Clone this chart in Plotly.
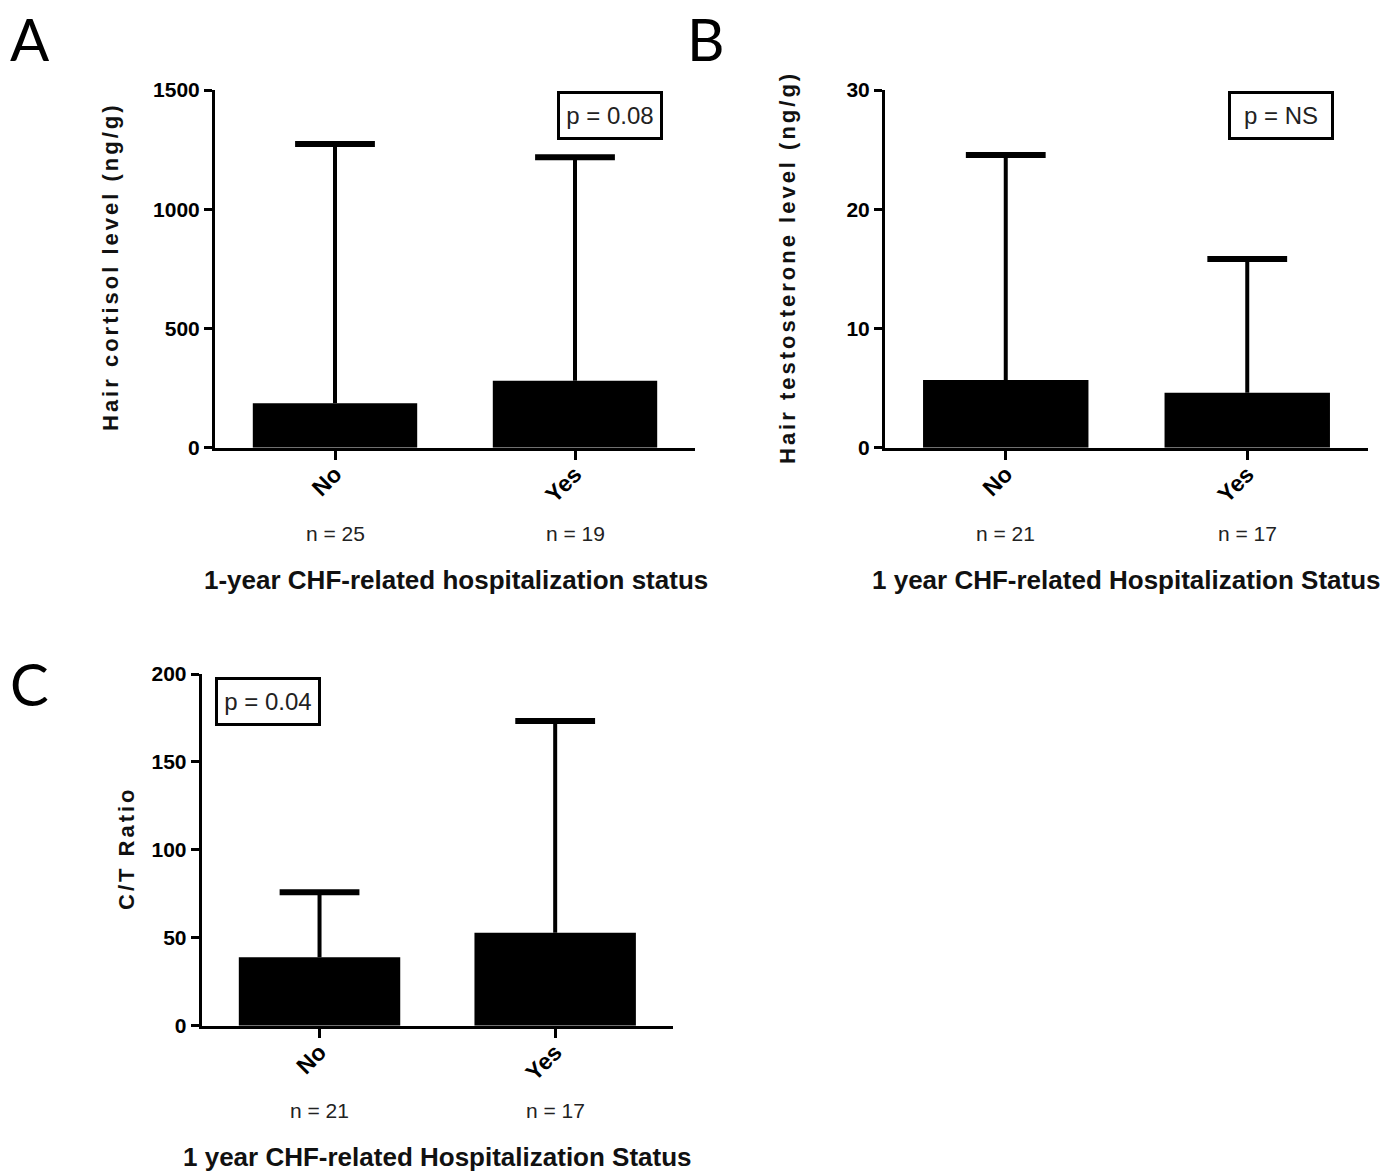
import plotly.graph_objects as go

# ---------------- data ----------------
categories = ["No", "Yes"]

# Panel A: hair cortisol (ng/g)
cortisol_mean = [186, 281]
cortisol_sd = [1088, 937]
cortisol_n = [25, 19]

# Panel B: hair testosterone (ng/g)
testo_mean = [5.68, 4.61]
testo_sd = [18.87, 11.22]
testo_n = [21, 17]

# Panel C: C/T ratio
ratio_mean = [38.9, 52.9]
ratio_sd = [37.0, 120.4]
ratio_n = [21, 17]

a_ticks = [0, 500, 1000, 1500]
b_ticks = [0, 10, 20, 30]
c_ticks = [0, 50, 100, 150, 200]

p_texts = ["p = 0.08", "p = NS", "p = 0.04"]
y_titles = ["Hair cortisol level (ng/g)", "Hair testosterone level (ng/g)", "C/T Ratio"]
x_titles = ["1-year CHF-related hospitalization status",
            "1 year CHF-related Hospitalization Status",
            "1 year CHF-related Hospitalization Status"]
panel_letters = ["A", "B", "C"]

# ---------------- figure ----------------
W, H = 1397, 1173
fig = go.Figure()

def px_x(v):
    return v / W

def px_y(v):
    return 1 - v / H

panels = [
    dict(mean=cortisol_mean, sd=cortisol_sd, n=cortisol_n, ticks=a_ticks,
         xd=[px_x(215), px_x(695)], yd=[px_y(447.7), px_y(90)], ax=""),
    dict(mean=testo_mean, sd=testo_sd, n=testo_n, ticks=b_ticks,
         xd=[px_x(885), px_x(1368)], yd=[px_y(447.7), px_y(90)], ax="2"),
    dict(mean=ratio_mean, sd=ratio_sd, n=ratio_n, ticks=c_ticks,
         xd=[px_x(201.7), px_x(673)], yd=[px_y(1025.7), px_y(674)], ax="3"),
]

tick_font = dict(family="Liberation Sans, Arial", size=21, color="black", weight="bold")
cat_font = dict(family="Liberation Sans, Arial", size=23, color="black", weight="bold")

for i, p in enumerate(panels):
    upper = [m + s for m, s in zip(p["mean"], p["sd"])]
    # bars with stem-only error bars (no caps)
    fig.add_trace(go.Bar(
        x=categories, y=p["mean"],
        xaxis="x" + p["ax"], yaxis="y" + p["ax"],
        width=0.685,
        marker=dict(color="black", line=dict(width=0)),
        error_y=dict(type="data", array=p["sd"], arrayminus=[0, 0], symmetric=False,
                     color="black", thickness=4, width=0),
        showlegend=False, hoverinfo="skip",
    ))
    # caps at the top of error bars
    fig.add_trace(go.Scatter(
        x=categories, y=upper, mode="markers",
        xaxis="x" + p["ax"], yaxis="y" + p["ax"],
        marker=dict(symbol="line-ew", size=57, color="black",
                    line=dict(color="black", width=6)),
        showlegend=False, hoverinfo="skip", cliponaxis=False,
    ))
    xa = dict(domain=p["xd"], anchor="y" + p["ax"], type="category",
              range=[-0.5, 1.5], showline=True, linecolor="black", linewidth=3,
              ticks="outside", ticklen=9, tickwidth=3, tickcolor="black",
              tickangle=-45, tickfont=cat_font, showgrid=False, zeroline=False,
              automargin=False, ticklabelstandoff=-8)
    ya = dict(domain=p["yd"], anchor="x" + p["ax"], range=[0, p["ticks"][-1]],
              tickvals=p["ticks"], showline=True, linecolor="black", linewidth=3,
              ticks="outside", ticklen=8, tickwidth=3, tickcolor="black",
              tickfont=tick_font, showgrid=False, zeroline=False, automargin=False)
    fig.update_layout(**{"xaxis" + p["ax"]: xa, "yaxis" + p["ax"]: ya})

    # n labels under categories
    n_y = px_y(533) if i < 2 else px_y(1110)
    for c, nv in zip(categories, p["n"]):
        fig.add_annotation(x=c, y=n_y, xref="x" + p["ax"], yref="paper",
                           text=f"n = {nv}", showarrow=False,
                           font=dict(family="Liberation Sans, Arial", size=21, color="#222"),
                           xanchor="center", yanchor="middle")

ann_font_title = dict(family="Liberation Sans, Arial", size=26, color="#111", weight="bold")

# x titles
for (cx, cy), t in zip([(456, 580), (1126, 580), (437, 1157)], x_titles):
    fig.add_annotation(x=px_x(cx), y=px_y(cy), xref="paper", yref="paper", text=t,
                       showarrow=False, font=ann_font_title, xanchor="center", yanchor="middle")

# y titles
for (cx, cy), t in zip([(110, 267), (787, 268), (126, 848)], y_titles):
    fig.add_annotation(x=px_x(cx), y=px_y(cy), xref="paper", yref="paper",
                       text=f'<span style="letter-spacing:3px">{t}</span>',
                       textangle=-90, showarrow=False,
                       font=dict(family="Liberation Sans, Arial", size=22, color="#111", weight="bold"),
                       xanchor="center", yanchor="middle")

# p-value boxes
for (cx, cy), t in zip([(609.5, 116), (1281, 116), (267.5, 701.5)], p_texts):
    fig.add_annotation(x=px_x(cx), y=px_y(cy), xref="paper", yref="paper", text=t,
                       showarrow=False, font=dict(family="Liberation Sans, Arial", size=24, color="#222"),
                       xanchor="center", yanchor="middle",
                       bordercolor="black", borderwidth=3, borderpad=0,
                       width=100, height=43, bgcolor="white")

# panel letters
for (cx, cy), t in zip([(30, 38), (706, 38), (29, 683)], panel_letters):
    fig.add_annotation(x=px_x(cx), y=px_y(cy), xref="paper", yref="paper", text=t,
                       showarrow=False, font=dict(family="Lato, Open Sans", size=58, color="black"),
                       xanchor="center", yanchor="middle")

fig.update_layout(width=W, height=H, margin=dict(l=0, r=0, t=0, b=0, autoexpand=False),
                  paper_bgcolor="white", plot_bgcolor="white", bargap=0.3)

fig.write_html("out.html", config={"displayModeBar": False},
               post_script="document.body.style.margin='0px';document.body.style.overflow='hidden';")
